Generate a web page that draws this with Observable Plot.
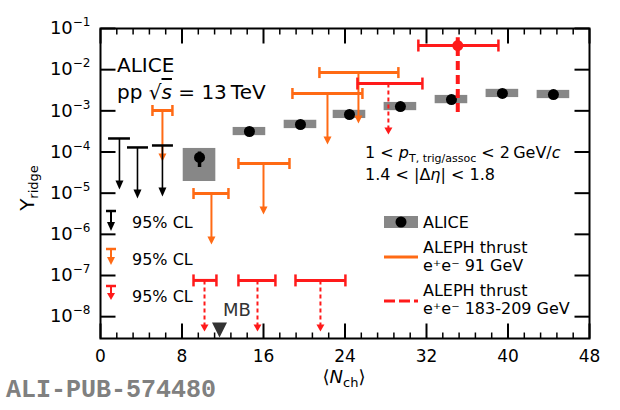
<!DOCTYPE html>
<html><head><meta charset="utf-8">
<script src="https://cdn.jsdelivr.net/npm/d3@7"></script>
<script src="https://cdn.jsdelivr.net/npm/@observablehq/plot@0.6"></script>
<style>body{margin:0;background:#fff} svg{font-family:"DejaVu Sans";}</style>
</head><body><div id="chart"></div>
<script>
// ---------------- data ----------------
// ALICE measurements
const aliceN      = [9.72, 14.62, 19.63, 24.44, 29.44, 34.45, 39.45, 44.46];
const aliceY      = [7.4e-5, 3.15e-4, 4.66e-4, 8.15e-4, 1.27e-3, 1.88e-3, 2.64e-3, 2.49e-3];
const aliceStatLo = [4.2e-5, 3.0e-4, 4.45e-4, 7.8e-4, 1.22e-3, 1.81e-3, 2.55e-3, 2.40e-3];
const aliceStatHi = [1.0e-4, 3.3e-4, 4.87e-4, 8.5e-4, 1.32e-3, 1.95e-3, 2.73e-3, 2.58e-3];
const aliceSysLo  = [1.92e-5, 2.5e-4, 3.7e-4, 6.5e-4, 1.01e-3, 1.49e-3, 2.1e-3, 1.98e-3];
const aliceSysHi  = [1.22e-4, 3.95e-4, 5.9e-4, 1.03e-3, 1.6e-3, 2.37e-3, 3.33e-3, 3.14e-3];
const aliceNLo    = [8.12, 13.02, 18.03, 22.84, 27.84, 32.85, 37.85, 42.86];
const aliceNHi    = [11.32, 16.22, 21.23, 26.04, 31.04, 36.05, 41.05, 46.06];
// ALICE 95% CL upper limits
const aliceUlN    = [1.86, 3.63, 6.08];
const aliceUl     = [2.13e-4, 1.29e-4, 1.44e-4];
const aliceUlNLo  = [0.79, 2.65, 5.10];
const aliceUlNHi  = [2.94, 4.71, 7.16];
// ALEPH thrust e+e- 91 GeV upper limits
const aleph91N    = [6.08, 10.89, 16.0, 22.28, 25.32];
const aleph91Ul   = [1.02e-3, 9.8e-6, 5.26e-5, 2.64e-3, 8.5e-3];
const aleph91NLo  = [5.10, 9.13, 13.54, 18.84, 21.49];
const aleph91NHi  = [7.06, 12.56, 18.55, 25.71, 29.24];
// ALEPH thrust e+e- 183-209 GeV upper limits
const aleph183N   = [10.21, 15.41, 21.59, 28.26];
const aleph183Ul  = [7.6e-8, 7.6e-8, 7.6e-8, 4.6e-3];
const aleph183NLo = [9.13, 13.54, 19.14, 25.22];
const aleph183NHi = [11.38, 17.17, 24.04, 31.60];
// ALEPH 183-209 GeV measured point
const aleph183PtN = [35.07];
const aleph183PtY = [0.0386];
const aleph183PtNLo = [31.2];
const aleph183PtNHi = [39.06];
const aleph183PtYLo = [9.1e-4];
const aleph183PtYHi = [0.060];
// minimum bias
const mbN = [11.68];
// axes
const xTicks = [0, 8, 16, 24, 32, 40, 48];
const xMinor = [1.6,3.2,4.8,6.4,9.6,11.2,12.8,14.4,17.6,19.2,20.8,22.4,25.6,27.2,28.8,30.4,33.6,35.2,36.8,38.4,41.6,43.2,44.8,46.4];
const yTicks = [1e-8, 1e-7, 1e-6, 1e-5, 1e-4, 1e-3, 1e-2, 1e-1];

// ---------------- tables ----------------
const alice = aliceN.map((n,i)=>({n, y:aliceY[i], eLo:aliceStatLo[i], eHi:aliceStatHi[i], sLo:aliceSysLo[i], sHi:aliceSysHi[i], lo:aliceNLo[i], hi:aliceNHi[i]}));
const mkUl = (N,U,L,H)=>N.map((n,i)=>({n, ul:U[i], lo:L[i], hi:H[i]}));
const blkUl = mkUl(aliceUlN, aliceUl, aliceUlNLo, aliceUlNHi);
const orUl  = mkUl(aleph91N, aleph91Ul, aleph91NLo, aleph91NHi);
const redUl = mkUl(aleph183N, aleph183Ul, aleph183NLo, aleph183NHi);
const redPt = aleph183PtN.map((n,i)=>({n, y:aleph183PtY[i], lo:aleph183PtNLo[i], hi:aleph183PtNHi[i], yLo:aleph183PtYLo[i], yHi:aleph183PtYHi[i]}));

// ---------------- styles ----------------
const ORANGE = "#ff6a14", RED = "#ff1a1a", GRAY = "#878787", DARK = "#333333";
const ARROW = 51;
const sym = fn => ({draw(ctx){ fn(ctx); }});
const hTick = L => sym(c=>{c.moveTo(0,0); c.lineTo(L,0);});
const vTick = L => sym(c=>{c.moveTo(0,0); c.lineTo(0,L);});
const cap = h => sym(c=>{c.moveTo(0,-h); c.lineTo(0,h);});
const shaft = h => sym(c=>{c.moveTo(0,0); c.lineTo(0,ARROW-h+1);});
const head = (w,h) => sym(c=>{c.moveTo(0,ARROW); c.lineTo(-w,ARROW-h); c.lineTo(w,ARROW-h); c.closePath();});
const mbSym = sym(c=>{c.moveTo(0,-1); c.lineTo(-7.5,-16); c.lineTo(7.5,-16); c.closePath();});

function limitMarks(data, color, opt){
  const m = [
    Plot.ruleY(data, {y:"ul", x1:"lo", x2:"hi", stroke:color, strokeWidth:opt.bw}),
    Plot.dot(data, {x:"n", y:"ul", symbol:shaft(opt.hh), stroke:color, fill:"none", strokeWidth:opt.sw, strokeDasharray:opt.dash}),
    Plot.dot(data, {x:"n", y:"ul", symbol:head(opt.hw, opt.hh), fill:color, stroke:"none"})
  ];
  if (opt.caps) {
    m.push(Plot.dot(data, {x:"lo", y:"ul", symbol:cap(opt.caps), stroke:color, fill:"none", strokeWidth:2.5}));
    m.push(Plot.dot(data, {x:"hi", y:"ul", symbol:cap(opt.caps), stroke:color, fill:"none", strokeWidth:2.5}));
  }
  return m;
}

const plot = Plot.plot({
  width: 620, height: 410,
  marginLeft: 100, marginRight: 31, marginTop: 28, marginBottom: 72,
  style: {fontFamily: "DejaVu Sans", fontSize: "17px", color: "black", background: "white"},
  x: {domain: [0, 48], ticks: xTicks, tickSize: 0, tickPadding: 11, label: null},
  y: {type: "log", domain: [2.95e-9, 0.1], ticks: yTicks, tickSize: 0, tickPadding: 10, label: null,
      tickFormat: d => String(Math.round(Math.log10(d)))},
  marks: [
    // ALICE systematic boxes
    Plot.rect(alice, {x1:"lo", x2:"hi", y1:"sLo", y2:"sHi", fill:GRAY}),
    // ALEPH 91
    ...limitMarks(orUl, ORANGE, {bw:3, sw:2, hw:4, hh:8, caps:5.5}),
    // ALEPH 183-209 limits
    ...limitMarks(redUl, RED, {bw:3, sw:2, hw:4, hh:7, caps:6, dash:"4,3"}),
    // ALICE limits
    ...limitMarks(blkUl, "black", {bw:2.5, sw:1.6, hw:4, hh:9}),
    // ALICE stat and points
    Plot.ruleX(alice, {x:"n", y1:"eLo", y2:"eHi", stroke:"black", strokeWidth:3.5}),
    Plot.dot(alice, {x:"n", y:"y", r:5.5, fill:"black", stroke:"none"}),
    // ALEPH 183-209 measured point
    Plot.ruleX(redPt, {x:"n", y1:"yLo", y2:"yHi", stroke:RED, strokeWidth:4, strokeDasharray:"9,5"}),
    Plot.ruleY(redPt, {y:"y", x1:"lo", x2:"hi", stroke:RED, strokeWidth:3}),
    Plot.dot(redPt, {x:"lo", y:"y", symbol:cap(6), stroke:RED, fill:"none", strokeWidth:2.5}),
    Plot.dot(redPt, {x:"hi", y:"y", symbol:cap(6), stroke:RED, fill:"none", strokeWidth:2.5}),
    Plot.dot(redPt, {x:"n", y:"y", r:5.5, fill:RED, stroke:"none"}),
    // MB marker
    Plot.dot(mbN, {x:d=>d, frameAnchor:"bottom", symbol:mbSym, fill:DARK, stroke:"none"}),
    // frame and inward ticks
    Plot.frame({stroke:"black", strokeWidth:2}),
    Plot.dot(yTicks, {y:d=>d, frameAnchor:"left", symbol:hTick(15), stroke:"black", fill:"none", strokeWidth:2}),
    Plot.dot(yTicks, {y:d=>d, frameAnchor:"right", symbol:hTick(-15), stroke:"black", fill:"none", strokeWidth:2}),
    Plot.dot(xTicks, {x:d=>d, frameAnchor:"bottom", symbol:vTick(-15), stroke:"black", fill:"none", strokeWidth:2}),
    Plot.dot(xTicks, {x:d=>d, frameAnchor:"top", symbol:vTick(15), stroke:"black", fill:"none", strokeWidth:2}),
    Plot.dot(xMinor, {x:d=>d, frameAnchor:"bottom", symbol:vTick(-6), stroke:"black", fill:"none", strokeWidth:1.5}),
    Plot.dot(xMinor, {x:d=>d, frameAnchor:"top", symbol:vTick(6), stroke:"black", fill:"none", strokeWidth:1.5})
  ]
});

const svg = d3.select(plot);
// y tick labels as 10^n
svg.selectAll('g[aria-label="y-axis tick label"] text').each(function(){
  const t = d3.select(this); const e = t.text();
  t.text("10").attr("font-size", "18px");
  t.append("tspan").attr("dy", -8).attr("font-size", "12px").text(e.replace("-", "\u2212"));
});

const g = svg.append("g").attr("font-family", "DejaVu Sans").attr("fill", "black").attr("text-anchor", "start");
function txt(x, y, size, parts, anchor){
  const t = g.append("text").attr("x", x).attr("y", y).attr("font-size", size + "px").attr("text-anchor", anchor || "start");
  for (const p of parts) {
    if (typeof p === "string") { t.append("tspan").text(p); continue; }
    const s = t.append("tspan").text(p.t);
    if (p.i) s.attr("font-style", "italic");
    if (p.fs) s.attr("font-size", p.fs + "px");
    if (p.dy) s.attr("dy", p.dy);
    if (p.o) s.attr("text-decoration", "overline");
  }
  return t;
}
// annotations
txt(117, 72, 20, ["ALICE"]);
txt(117, 99, 20, ["pp \u221A", {t:"s", i:1, o:1}, " = 13\u2009TeV"]);
txt(365, 158, 16, ["1 < ", {t:"p", i:1}, {t:"T, trig/assoc", fs:11, dy:4}, {t:" < 2\u2009GeV/", dy:-4}, {t:"c", i:1}]);
txt(365, 180, 16, ["1.4 < |\u0394", {t:"\u03B7", i:1}, "| < 1.8"]);
// axis titles
txt(344, 383, 18, ["\u27E8", {t:"N", i:1}, {t:"ch", fs:13, dy:4}, {t:"\u27E9", dy:-4}], "middle");
const yl = g.append("text").attr("transform", "translate(34,188) rotate(-90)").attr("text-anchor", "middle").attr("font-size", "20px");
yl.append("tspan").text("Y");
yl.append("tspan").attr("font-size", "13px").attr("dy", 4).text("ridge");
// MB label
txt(237, 316, 18, ["MB"], "middle").attr("fill", DARK);
// left legend (95% CL)
function legArrow(x, y0, len, color, hh, dash){
  g.append("line").attr("x1", x-5).attr("x2", x+5).attr("y1", y0).attr("y2", y0).attr("stroke", color).attr("stroke-width", 2.5);
  g.append("line").attr("x1", x).attr("x2", x).attr("y1", y0).attr("y2", y0+len-hh+1).attr("stroke", color).attr("stroke-width", 2).attr("stroke-dasharray", dash || null);
  g.append("path").attr("d", `M${x},${y0+len}L${x-4},${y0+len-hh}L${x+4},${y0+len-hh}Z`).attr("fill", color);
}
legArrow(111, 211, 20, "black", 9);
legArrow(111, 249, 16, ORANGE, 8);
legArrow(111, 286, 14, RED, 7);
txt(132, 228, 16, ["95% CL"]);
txt(132, 265, 16, ["95% CL"]);
txt(132, 302, 16, ["95% CL"]);
// right legend
g.append("rect").attr("x", 384).attr("y", 216).attr("width", 34).attr("height", 12).attr("fill", GRAY);
g.append("circle").attr("cx", 401).attr("cy", 222).attr("r", 5.5).attr("fill", "black");
g.append("line").attr("x1", 384).attr("x2", 418).attr("y1", 257).attr("y2", 257).attr("stroke", ORANGE).attr("stroke-width", 3);
g.append("line").attr("x1", 384).attr("x2", 418).attr("y1", 301).attr("y2", 301).attr("stroke", RED).attr("stroke-width", 3).attr("stroke-dasharray", "11,4");
txt(423, 228, 16, ["ALICE"]);
txt(423, 253, 16, ["ALEPH thrust"]);
txt(423, 271, 16, ["e\u207Ae\u207B 91 GeV"]);
txt(423, 296, 16, ["ALEPH thrust"]);
txt(423, 314, 16, ["e\u207Ae\u207B 183-209 GeV"]);
// publication id
g.append("text").attr("x", 6).attr("y", 397).attr("text-anchor", "start").attr("font-family", "Liberation Mono").attr("font-weight", "bold")
  .attr("font-size", "25px").attr("fill", "#808080").text("ALI-PUB-574480");

document.getElementById("chart").appendChild(plot);
</script>
</body></html>
